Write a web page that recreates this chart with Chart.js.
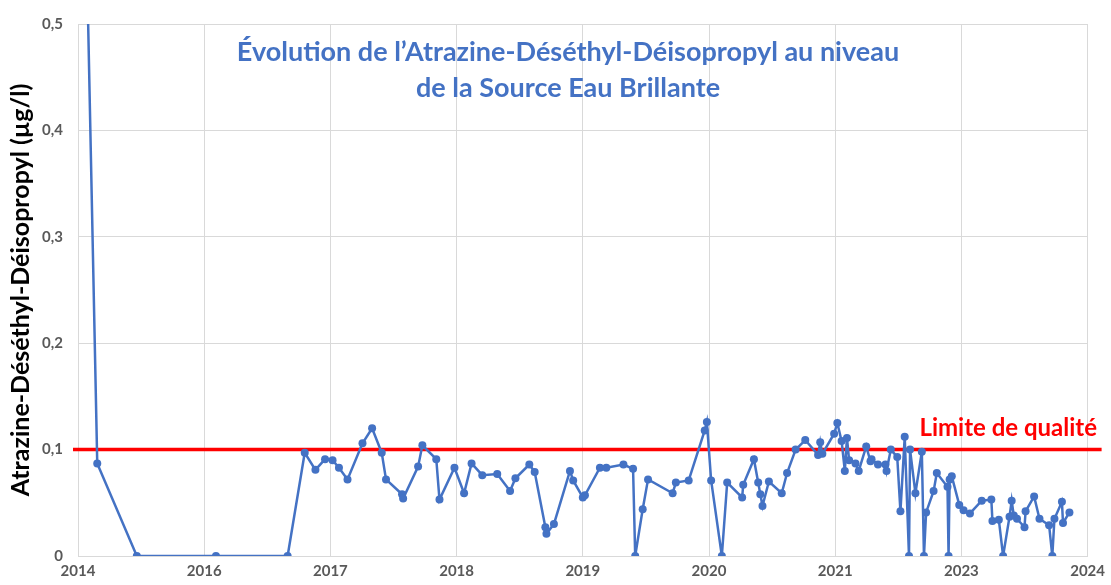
<!DOCTYPE html>
<html>
<head>
<meta charset="utf-8">
<script src="https://cdn.jsdelivr.net/npm/chart.js@4/dist/chart.umd.min.js"></script>
<style>
  html,body{margin:0;padding:0;background:#fff}
  canvas{display:block}
</style>
</head>
<body>
<canvas id="graphique" width="1111" height="585"></canvas>
<script>
// dates des prélèvements (années décimales) et concentrations en µg/l
const dates = [
  2014.93, 2015.05, 2015.42, 2016.16, 2016.83, 2016.99, 2017.09, 2017.18, 2017.25, 2017.31,
  2017.39, 2017.53, 2017.62, 2017.71, 2017.75, 2017.90, 2017.91, 2018.05, 2018.09, 2018.22,
  2018.25, 2018.39, 2018.48, 2018.55, 2018.65, 2018.79, 2018.91, 2018.96, 2019.09, 2019.14,
  2019.24, 2019.25, 2019.32, 2019.47, 2019.50, 2019.59, 2019.61, 2019.75, 2019.81, 2019.97,
  2020.06, 2020.08, 2020.15, 2020.20, 2020.43, 2020.46, 2020.58, 2020.73, 2020.75, 2020.79,
  2020.89, 2020.94, 2021.08, 2021.09, 2021.19, 2021.23, 2021.25, 2021.27, 2021.33, 2021.45,
  2021.50, 2021.58, 2021.67, 2021.79, 2021.81, 2021.83, 2021.94, 2021.97, 2022.01, 2022.04,
  2022.06, 2022.08, 2022.14, 2022.17, 2022.24, 2022.28, 2022.29, 2022.35, 2022.42, 2022.43,
  2022.47, 2022.53, 2022.56, 2022.60, 2022.64, 2022.65, 2022.70, 2022.76, 2022.78, 2022.80,
  2022.87, 2022.90, 2023.00, 2023.01, 2023.02, 2023.04, 2023.11, 2023.15, 2023.21, 2023.32,
  2023.41, 2023.42, 2023.48, 2023.52, 2023.58, 2023.60, 2023.62, 2023.65, 2023.72, 2023.73,
  2023.81, 2023.86, 2023.95, 2023.98, 2024.00, 2024.07, 2024.08, 2024.14
]
const valeurs = [
  0.67, 0.087, 0, 0, 0, 0.097, 0.081, 0.091, 0.090, 0.083,
  0.072, 0.106, 0.120, 0.097, 0.072, 0.058, 0.054, 0.084, 0.104, 0.091,
  0.053, 0.083, 0.059, 0.087, 0.076, 0.077, 0.061, 0.073, 0.086, 0.079,
  0.027, 0.021, 0.030, 0.080, 0.071, 0.055, 0.057, 0.083, 0.083, 0.086,
  0.082, 0, 0.044, 0.072, 0.059, 0.069, 0.071, 0.118, 0.126, 0.071,
  0, 0.069, 0.055, 0.067, 0.091, 0.069, 0.058, 0.047, 0.070, 0.059,
  0.078, 0.100, 0.109, 0.095, 0.107, 0.096, 0.115, 0.125, 0.108, 0.080,
  0.111, 0.090, 0.087, 0.080, 0.103, 0.089, 0.091, 0.086, 0.086, 0.080,
  0.100, 0.093, 0.042, 0.112, 0, 0.100, 0.059, 0.098, 0, 0.041,
  0.061, 0.078, 0.065, 0, 0.072, 0.075, 0.048, 0.043, 0.040, 0.052,
  0.053, 0.033, 0.034, 0, 0.037, 0.052, 0.038, 0.035, 0.027, 0.042,
  0.056, 0.035, 0.029, 0, 0.035, 0.051, 0.031, 0.041
]
const x_tick_labels = ['2014','2016','2017','2018','2019','2020','2021','2023','2024']
const limite_qualite = 0.1
const titre = ['Évolution de l’Atrazine-Déséthyl-Déisopropyl au niveau','de la Source Eau Brillante']

// axe des dates façon Excel : départ fin 2014, pas de 1,18 an
const x_min = 2014.87
const x_pas = 1.18

const police = 'Lato, "Open Sans", sans-serif'
const bleu = '#4472C4'
const gris = '#595959'
const grille = '#d9d9d9'

// fond blanc, ligne rouge de la limite, titre et texte
const decor = {
  id:'decor',
  beforeDraw(chart){
    const ctx = chart.ctx
    ctx.save()
    ctx.fillStyle = '#fff'
    ctx.fillRect(0,0,chart.width,chart.height)
    ctx.restore()
  },
  beforeDatasetsDraw(chart){
    const ctx = chart.ctx
    const area = chart.chartArea
    const y = chart.scales.y.getPixelForValue(limite_qualite)
    ctx.save()
    ctx.strokeStyle = '#ff0000'
    ctx.lineWidth = 3.5
    ctx.beginPath()
    ctx.moveTo(area.left-5,y)
    ctx.lineTo(area.right+14,y)
    ctx.stroke()
    ctx.restore()
  },
  afterDraw(chart){
    const ctx = chart.ctx
    const y = chart.scales.y.getPixelForValue(limite_qualite)
    ctx.save()
    ctx.fillStyle = bleu
    ctx.font = 'bold 27px ' + police
    ctx.textAlign = 'center'
    ctx.textBaseline = 'middle'
    ctx.fillText(titre[0],568,52)
    ctx.fillText(titre[1],568,88)
    ctx.fillStyle = '#ff0000'
    ctx.font = 'bold 24px ' + police
    ctx.textAlign = 'right'
    ctx.fillText('Limite de qualité',1097,y-21)
    ctx.restore()
  }
}

window.addEventListener('load',()=>{
  const canvas = document.getElementById('graphique')
  const points = dates.map((d,i)=>({x:d,y:valeurs[i]}))

  new Chart(canvas.getContext('2d'),{
    type:'line',
    data:{
      datasets:[{
        label:'Atrazine-Déséthyl-Déisopropyl',
        data:points,
        borderColor:bleu,
        backgroundColor:bleu,
        borderWidth:2.5,
        pointRadius:4,
        pointBorderWidth:0,
        tension:0,
        fill:false
      }]
    },
    options:{
      responsive:false,
      devicePixelRatio:1,
      animation:false,
      layout:{padding:{top:17,right:20,left:0,bottom:0}},
      plugins:{legend:{display:false},tooltip:{enabled:false}},
      scales:{
        x:{
          type:'linear',
          min:x_min,
          max:x_min + x_pas*(x_tick_labels.length-1),
          afterBuildTicks:(scale)=>{
            scale.ticks = x_tick_labels.map((l,i)=>({value:x_min + i*x_pas}))
          },
          afterFit:(scale)=>{ scale.height = 29 },
          grid:{color:grille,drawTicks:false},
          border:{color:grille},
          ticks:{
            autoSkip:false,
            maxRotation:0,
            padding:6,
            color:gris,
            font:{family:police,size:15,weight:'bold'},
            callback:(v,i)=>x_tick_labels[i]
          }
        },
        y:{
          min:0,
          max:0.5,
          afterFit:(scale)=>{ scale.width = 78 },
          grid:{color:grille,drawTicks:false},
          border:{display:false},
          ticks:{
            stepSize:0.1,
            padding:15,
            color:gris,
            font:{family:police,size:15,weight:'bold'},
            callback:(v)=> v===0 ? '0' : v.toFixed(1).replace('.',',')
          },
          title:{
            display:true,
            text:'Atrazine-Déséthyl-Déisopropyl (µg/l)',
            color:'#000',
            font:{family:police,size:25,weight:'bold'},
            padding:{top:6,bottom:0}
          }
        }
      }
    },
    plugins:[decor]
  })
})
</script>
</body>
</html>
